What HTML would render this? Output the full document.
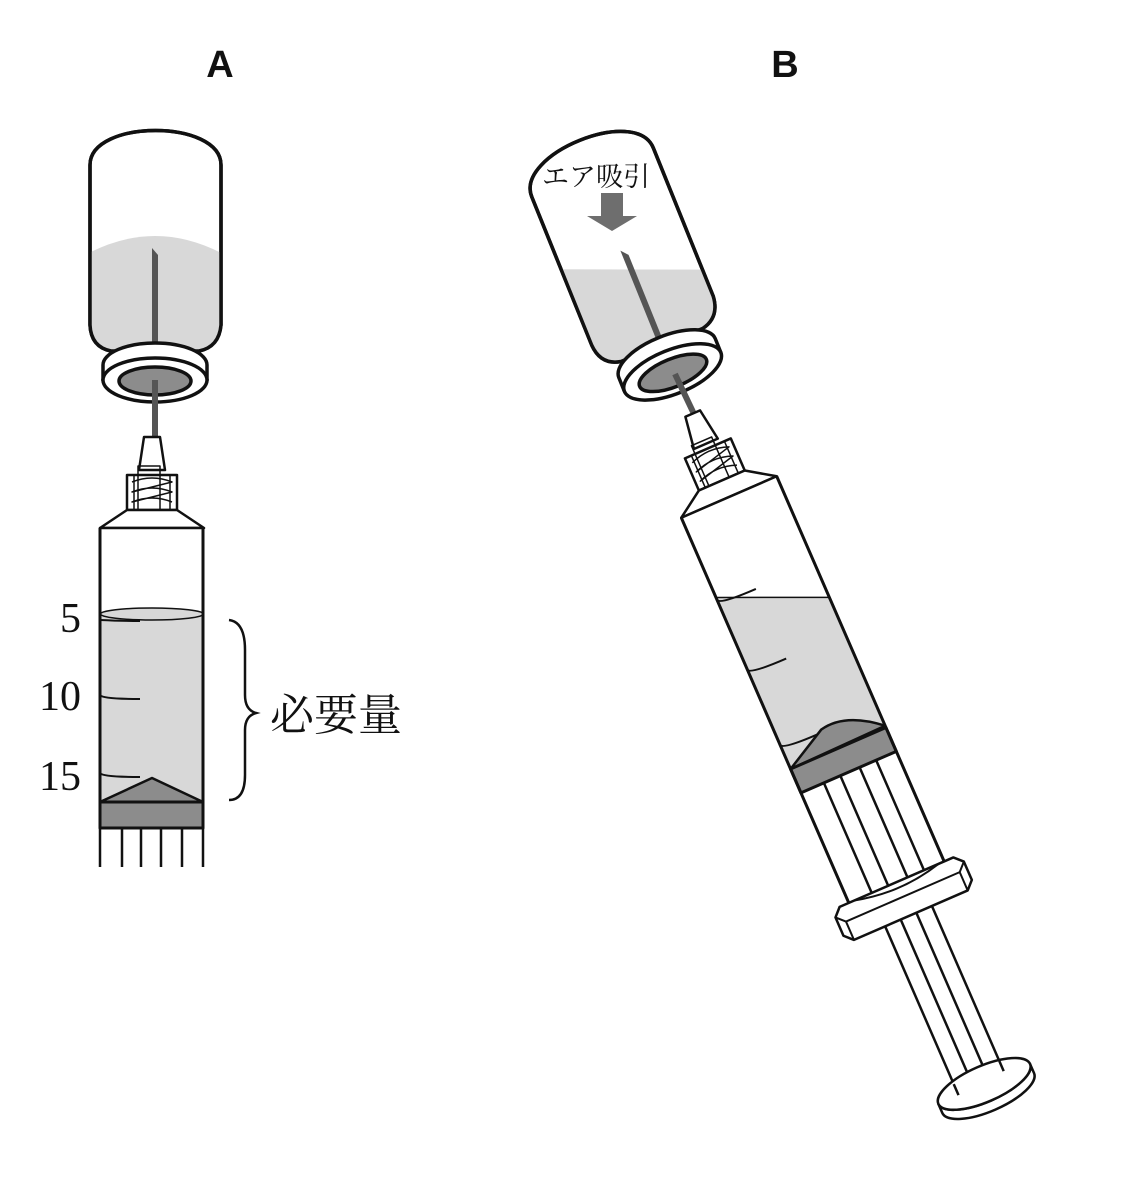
<!DOCTYPE html>
<html><head><meta charset="utf-8"><style>
html,body{margin:0;padding:0;background:#fff}
svg{display:block}
</style></head><body>
<svg width="1128" height="1186" viewBox="0 0 1128 1186" xmlns="http://www.w3.org/2000/svg">
<defs>
<clipPath id="vb"><path d="M-65,-40 L-65,-200 C-65,-246 66,-246 66,-200 L66,-40 Q64,-18 44,-14 L-44,-14 Q-64,-18 -65,-40 Z"/></clipPath>
</defs>
<g font-family="Liberation Sans, sans-serif" font-weight="bold" font-size="38" text-anchor="middle" fill="#111">
<text x="220" y="77">A</text><text x="785" y="77">B</text>
</g>

<!-- ===== A VIAL ===== -->
<g transform="translate(155,365)" stroke="#111" stroke-width="3.5" stroke-linejoin="round">
<path d="M-65,-40 L-65,-200 C-65,-246 66,-246 66,-200 L66,-40 Q64,-18 44,-14 L-44,-14 Q-64,-18 -65,-40 Z" fill="#fff"/>
<path clip-path="url(#vb)" d="M-70,-110 Q0,-148 70,-110 L70,0 L-70,0 Z" fill="#d8d8d8" stroke="none"/>
<path d="M-65,-40 L-65,-200 C-65,-246 66,-246 66,-200 L66,-40 Q64,-18 44,-14 L-44,-14 Q-64,-18 -65,-40 Z" fill="none"/>
<path d="M-3,-117 L3,-110 L3,-20 L-3,-20 Z" fill="#555" stroke="none"/>
<path d="M-52,0 A52 22 0 0 1 52,0 L52,14 A52 22 0 0 1 -52,14 Z" fill="#fff"/>
<path d="M-52,14 A52 22 0 0 0 52,14" fill="none"/>
<ellipse cx="0" cy="15" rx="52" ry="22" fill="#fff"/>
<ellipse cx="0" cy="16" rx="36" ry="14" fill="#8c8c8c"/>
<rect x="-3" y="15" width="6" height="58" fill="#555" stroke="none"/>
</g>

<!-- ===== A SYRINGE ===== -->
<g transform="translate(152,528)" stroke="#111" stroke-width="2.5" fill="#fff" stroke-linejoin="round">
<path d="M-8,-91 L8,-91 L13,-58 L-13,-58 Z"/>
<rect x="-25" y="-53" width="50" height="35"/>
<g stroke-width="1.5" fill="none">
<rect x="-14" y="-62" width="22" height="44"/>
<path d="M-20,-46 Q0,-54 20,-46 Q-4,-40 -20,-36 Q0,-44 20,-36 Q-4,-30 -20,-26 Q0,-34 20,-26"/>
<line x1="-18" y1="-53" x2="-18" y2="-18"/><line x1="18" y1="-53" x2="18" y2="-18"/>
</g>
<path d="M-25,-18 L25,-18 L52,0 L-52,0 Z"/>
<path d="M-52,0 Q0,6 52,0" fill="none" stroke-width="1.5"/>
<rect x="-52" y="0" width="103" height="274"/>
<rect x="-52" y="86" width="103" height="188" fill="#d8d8d8" stroke="none"/>
<ellipse cx="0" cy="86" rx="51.5" ry="6" fill="#d8d8d8" stroke-width="1.5"/>
<path d="M-52,274 L0,250 L51,274 Z" fill="#8c8c8c"/>
<rect x="-52" y="274" width="103" height="26" fill="#8c8c8c" stroke-width="3"/>
<path d="M-52,92 Q-30,93 -12,93 M-52,167 Q-50,171 -12,171 M-52,245 Q-50,249 -12,249" fill="none" stroke-width="2"/>
<path d="M-52,0 L-52,274 M51,0 L51,274" fill="none" stroke-width="3"/>
<path d="M-52,300 V339 M-30,300 V339 M-11,300 V339 M9,300 V339 M30,300 V339 M51,300 V339" fill="none"/>
</g>
<g font-family="Liberation Serif, serif" font-size="42" text-anchor="end" fill="#111">
<text x="81" y="632">5</text><text x="81" y="710">10</text><text x="81" y="790">15</text>
</g>
<path d="M229,620 Q245,622 245,650 L245,695 Q245,710 256,713 Q245,716 245,730 L245,775 Q245,800 229,800" fill="none" stroke="#111" stroke-width="2.5"/>
<text x="270" y="730" font-family="Liberation Serif, 'Noto Serif CJK SC', serif" font-size="44" fill="#111">必要量</text>

<!-- ===== B VIAL ===== -->
<g transform="translate(667,358) rotate(-22)" stroke="#111" stroke-width="3.5" stroke-linejoin="round">
<path d="M-65,-40 L-65,-200 C-65,-246 66,-246 66,-200 L66,-40 Q64,-18 44,-14 L-44,-14 Q-64,-18 -65,-40 Z" fill="#fff"/>
<path clip-path="url(#vb)" d="M-80,-128 L80,-63 L80,0 L-80,0 Z" fill="#d8d8d8" stroke="none"/>
<path d="M-65,-40 L-65,-200 C-65,-246 66,-246 66,-200 L66,-40 Q64,-18 44,-14 L-44,-14 Q-64,-18 -65,-40 Z" fill="none"/>
<path d="M-3,-117 L3,-110 L3,-20 L-3,-20 Z" fill="#555" stroke="none"/>
<path d="M-52,0 A52 22 0 0 1 52,0 L52,14 A52 22 0 0 1 -52,14 Z" fill="#fff"/>
<ellipse cx="0" cy="15" rx="52" ry="22" fill="#fff"/>
<ellipse cx="0" cy="16" rx="36" ry="14" fill="#8c8c8c"/>
</g>
<line x1="675" y1="374" x2="694" y2="414" stroke="#555" stroke-width="6"/>
<text x="596" y="186" text-anchor="middle" font-family="Liberation Serif, 'Noto Serif CJK JP', serif" font-size="27" fill="#111">エア吸引</text>
<path d="M601,193 H623 V216 H637 L612,231 L587,216 H601 Z" fill="#6e6e6e"/>

<!-- ===== B SYRINGE ===== -->
<g transform="translate(729,497) rotate(-23.5)" stroke="#111" stroke-width="2.5" fill="#fff" stroke-linejoin="round">
<path d="M-8,-91 L8,-91 L13,-58 L-13,-58 Z"/>
<rect x="-25" y="-53" width="50" height="35"/>
<g stroke-width="1.5" fill="none">
<rect x="-14" y="-62" width="22" height="44"/>
<path d="M-20,-46 Q0,-54 20,-46 Q-4,-40 -20,-36 Q0,-44 20,-36 Q-4,-30 -20,-26 Q0,-34 20,-26"/>
<line x1="-18" y1="-53" x2="-18" y2="-18"/><line x1="18" y1="-53" x2="18" y2="-18"/>
</g>
<path d="M-25,-18 L25,-18 L52,0 L-52,0 Z"/>
<path d="M-52,0 Q0,6 52,0" fill="none" stroke-width="1.5"/>
<rect x="-52" y="0" width="104" height="430"/>
<path d="M-52,87 L52,132 L52,274 L-52,274 Z" fill="#d8d8d8" stroke="none"/>
<path d="M-52,87 L52,132" stroke-width="1.5"/>
<path d="M-52,274 L-8,250 Q20,244 52,272 Z" fill="#8c8c8c"/>
<path d="M-52,274 L52,274 L52,300 L-52,300 Z" fill="#8c8c8c" stroke-width="3"/>
<path d="M-52,90 Q-50,95 -12,95 M-52,166 Q-50,171 -12,171 M-52,248 Q-50,253 -14,253" fill="none" stroke-width="2"/>
<path d="M-27,300 V445 M-9,300 V445 M12,300 V445 M30,300 V445" fill="none"/>
<path d="M-52,0 V430 M52,0 V430" fill="none" stroke-width="3"/>
<!-- flange -->
<path d="M-70,428 L-70,448 L-62,456 L62,456 L70,448 L70,428 L62,420 L-62,420 Z"/>
<path d="M-70,428 L-62,436 L62,436 L70,428 M-62,436 V456 M62,436 V456" fill="none" stroke-width="2"/>
<path d="M-46,420 Q0,432 46,420" fill="none" stroke-width="2"/>
<!-- rod below flange -->
<path d="M-28,456 V632 M-11,456 V632 M6,456 V628 M23,456 V628" fill="none"/>
<path d="M-28,632 L-11,632 M-11,632 L6,628 M6,628 L23,628" fill="none"/>
<!-- plunger disk -->
<path d="M-50,640 A50 18 0 0 0 50,640 L50,650 A50 18 0 0 1 -50,650 Z"/>
<ellipse cx="0" cy="640" rx="50" ry="18"/>
<path d="M-28,628 V640 M23,625 V636" fill="none"/>
</g>
</svg>
</body></html>
